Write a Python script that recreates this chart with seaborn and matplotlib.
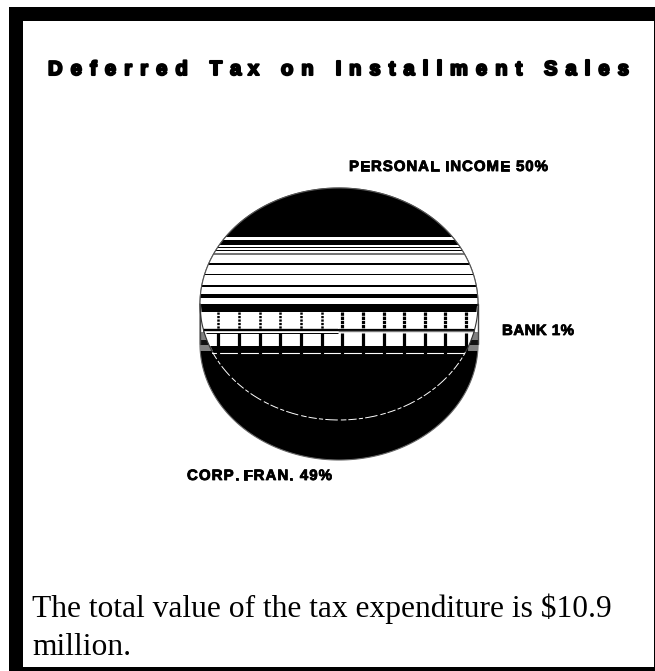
import numpy as np
import matplotlib
matplotlib.use("Agg")
import matplotlib.pyplot as plt
import matplotlib.patheffects as pe
from matplotlib.patches import Rectangle, Polygon
import seaborn as sns

# Shares of the deferred tax, in percent
categories = ["PERSONAL INCOME", "CORP. FRAN.", "BANK"]
shares = [50, 49, 1]
title = "Deferred Tax on Installment Sales"
footnote = ["The total value of the tax expenditure is $10.9", "million."]

sns.set_theme(style="white")
plt.rcParams["font.family"] = ["Liberation Sans", "DejaVu Sans"]
plt.rcParams["lines.scale_dashes"] = False

W, H = 655, 671
fig = plt.figure(figsize=(W / 100, H / 100), dpi=100, facecolor="white")

# Page layer, measured in pixels from the top left corner
page = fig.add_axes([0, 0, 1, 1], zorder=0)
page.set_xlim(0, W)
page.set_ylim(H, 0)
page.axis("off")
for x, y, w, h in [(9, 7, 646, 14), (9, 7, 14, 664), (9, 667, 646, 4), (654, 7, 1, 664)]:
    page.add_patch(Rectangle((x, y), w, h, fc="black", ec="none"))


def spaced_text(ax, s, x0, x1, baseline, **kw):
    """Lay out a string one glyph at a time, tracked to fill x0..x1."""
    r = fig.canvas.get_renderer()
    adv = []
    for i in range(len(s)):
        t = ax.text(0, 0, s[: i + 1].replace(" ", "\u00a0"), **kw)
        adv.append(t.get_window_extent(r).width)
        t.remove()
    track = (x1 - x0 - adv[-1]) / (len(s) - 1)
    for i, ch in enumerate(s):
        if ch != " ":
            off = adv[i - 1] if i else 0
            ax.text(x0 + off + track * i, baseline, ch, va="baseline", **kw)


heavy = [pe.withStroke(linewidth=1.5, foreground="black")]
spaced_text(page, title, 48, 629, 75, fontsize=14.5, fontweight="bold",
            color="black", path_effects=heavy)

label_style = dict(fontsize=10.8, fontweight="bold", color="black",
                   path_effects=[pe.withStroke(linewidth=0.6, foreground="black")])
spaced_text(page, f"{categories[0]} {shares[0]}%", 349, 548, 171, **label_style)
spaced_text(page, f"{categories[1]} {shares[1]}%", 187, 332, 480, **label_style)
spaced_text(page, f"{categories[2]} {shares[2]}%", 502, 574, 335, **label_style)

for line, base in zip(footnote, (617, 655)):
    page.text(32, base, line, fontsize=22.7, family="Liberation Serif", color="black", va="baseline")

# Pie layer: the top face is a unit circle squeezed to an ellipse by the axes
CX, CY, RX, RY, DEPTH = 339, 304, 139, 116, 40
MARGIN = 1.15
pie_ax = fig.add_axes([(CX - RX * MARGIN) / W, 1 - (CY + DEPTH + RY * MARGIN) / H,
                       2 * RX * MARGIN / W, (2 * RY * MARGIN + DEPTH) / H], zorder=1)


def px(x):
    return (x - CX) / RX


def py(y):
    return (CY - y) / RY


palette = sns.color_palette(["#000000", "#000000", "#000000"])
drop = DEPTH / RY

# Extruded body under the top face
t = np.linspace(0, 2 * np.pi, 361)
top_half = t <= np.pi
body_x = np.concatenate([np.cos(t[top_half]), np.cos(t[~top_half])])
body_y = np.concatenate([np.sin(t[top_half]), np.sin(t[~top_half]) - drop])
pie_ax.add_patch(Polygon(np.column_stack([body_x, body_y]), closed=True, fc="black",
                         ec="#666666", lw=0.8, zorder=1))

wedges, _ = pie_ax.pie(shares, startangle=0, counterclock=True, colors=palette, radius=1,
                       wedgeprops=dict(linewidth=0), center=(0, 0))
for w_ in wedges:
    w_.set_zorder(2)

pie_ax.set_aspect("auto")
pie_ax.set_xlim(-MARGIN, MARGIN)
pie_ax.set_ylim(py(CY + DEPTH + RY * MARGIN), py(CY - RY * MARGIN))
pie_ax.axis("off")

face = Polygon(np.column_stack([np.cos(t), np.sin(t)]), closed=True, fc="none", ec="none",
               transform=pie_ax.transData)
pie_ax.add_patch(face)


def clipped_span(y0, y1, color, z=3):
    a = pie_ax.axhspan(py(y1), py(y0), fc=color, ec="none", zorder=z)
    a.set_clip_path(face)


def rim_patch(side, corners, color):
    pts = [(px(CX + side * (RX - inset)), py(y)) for inset, y in corners]
    pie_ax.add_patch(Polygon(pts, closed=True, fc=color, ec="none", zorder=3))


# Side walls of the rim beside the hatched band
for side in (-1, 1):
    rim_patch(side, [(0, 306), (1, 306), (3.5, 332), (0, 332)], "white")
    rim_patch(side, [(0, 332), (3.5, 332), (13, 351), (0, 351)], "#808080")
    rim_patch(side, [(0, 340), (7, 340), (9, 345), (0, 345)], "#111111")
    pie_ax.plot([px(CX + side * RX)] * 2, [py(304), py(344)], color="#444444", lw=1.0, zorder=5)

# Horizontal hatching of the personal income slice
white_rows = [(237.3, 240.3), (245, 247), (248.3, 249.7), (251, 263), (265, 274),
              (275, 285), (287, 294), (297.7, 304), (312, 328.5), (331, 346)]
grey_rows = [(253, 255, "#777777")]
for y0, y1 in white_rows:
    clipped_span(y0, y1, "white")
for y0, y1, c in grey_rows:
    clipped_span(y0, y1, c, z=4)

# Two-tone divider across the hatched band
pie_ax.plot([px(203), px(338)], [py(329.7)] * 2, color="black", lw=1.7, zorder=4, solid_capstyle="butt")
pie_ax.plot([px(338), px(472)], [py(329)] * 2, color="black", lw=0.9, zorder=4, solid_capstyle="butt")
pie_ax.plot([px(338), px(474)], [py(331)] * 2, color="#777777", lw=1.0, zorder=4, solid_capstyle="butt")
pie_ax.plot([px(206), px(338)], [py(333)] * 2, color="black", lw=0.7, zorder=4, solid_capstyle="butt")

# Straight white rule along the foot of the hatched band
pie_ax.plot([px(212), px(465)], [py(352.6)] * 2, color="white", lw=0.8, zorder=3.5)

# Vertical hatching in the band
grid_x = 218.3 + 20.65 * np.arange(13)
for i, gx in enumerate(grid_x):
    strong = i >= 6
    lw = 2.3 if strong else 1.8
    dash = (2.4, 0.6) if strong else (1.6, 0.9)
    pie_ax.plot([px(gx)] * 2, [py(312), py(329)], color="black", lw=lw, dashes=dash,
                zorder=4, dash_capstyle="butt")
    pie_ax.plot([px(gx)] * 2, [py(333), py(354)], color="black", lw=2.3, zorder=4,
                solid_capstyle="butt")

# Broken white edge of the top face against the dark rim
theta = np.radians(np.linspace(204.4, 335.6, 300))
pie_ax.plot(np.cos(theta), np.sin(theta), color="white", lw=0.7,
            dashes=(6, 1.6, 3, 1.6, 9, 2.2, 4, 1.4), zorder=4)

# Outline of the top face, visible only on the light rows
theta_up = np.linspace(0, np.pi, 200)
pie_ax.plot(np.cos(theta_up), np.sin(theta_up), color="#555555", lw=0.8, zorder=5)
for a, b in ((180, 204.4), (335.6, 360)):
    th = np.radians(np.linspace(a, b, 60))
    pie_ax.plot(np.cos(th), np.sin(th), color="#333333", lw=0.8, zorder=5)

fig.savefig("out.png", dpi=100)
